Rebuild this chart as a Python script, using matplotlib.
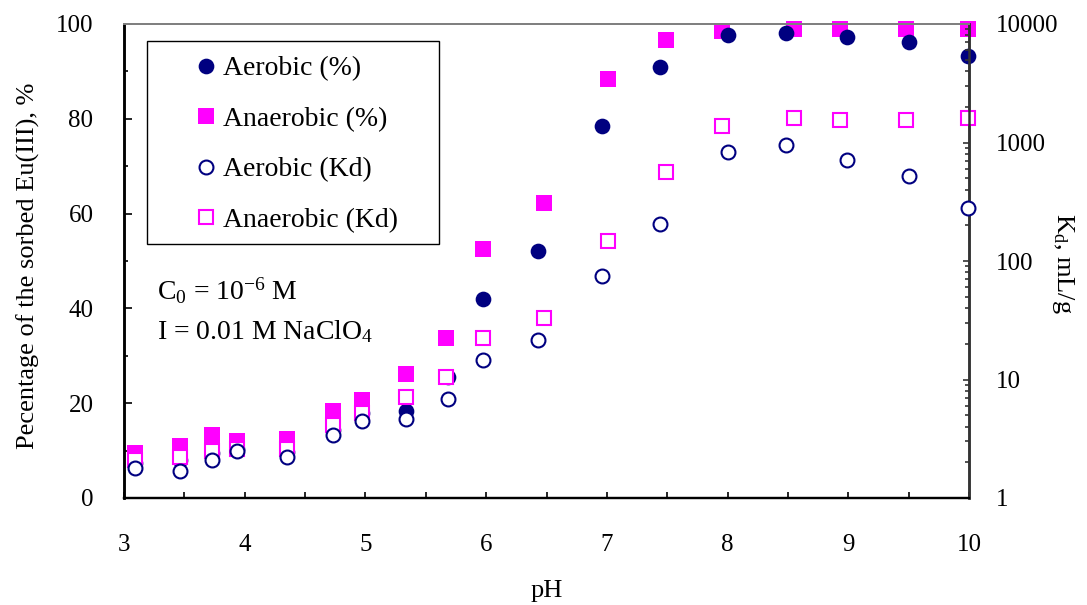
import matplotlib
matplotlib.use("Agg")
import matplotlib.pyplot as plt
from matplotlib.patches import Rectangle
from matplotlib.ticker import FixedLocator, MultipleLocator, NullFormatter

plt.rcParams['font.family'] = ['Liberation Serif', 'DejaVu Serif']
plt.rcParams['mathtext.fontset'] = 'custom'
plt.rcParams['mathtext.rm'] = 'Liberation Serif'
plt.rcParams['mathtext.it'] = 'Liberation Serif:italic'

# ---------------- data ----------------
ph_aer = [3.09, 3.46, 3.73, 3.94, 4.35, 4.73, 4.97, 5.34, 5.68, 5.97, 6.43, 6.96, 7.44, 8.00, 8.48, 8.99, 9.50, 9.99]
ph_ana = [3.09, 3.46, 3.73, 3.94, 4.35, 4.73, 4.97, 5.34, 5.67, 5.97, 6.48, 7.01, 7.49, 7.95, 8.55, 8.93, 9.48, 9.99]
pct_aer = [7.4, 8.0, 9.5, 10.3, 9.6, 14.3, 18.0, 18.4, 25.6, 42.0, 52.2, 78.4, 90.9, 97.7, 98.2, 97.3, 96.3, 93.2]
pct_ana = [9.4, 11.0, 13.3, 12.1, 12.4, 18.4, 20.7, 26.2, 33.7, 52.6, 62.2, 88.3, 96.6, 98.6, 98.9, 98.9, 98.9, 98.9]
kd_aer = [1.8, 1.7, 2.1, 2.5, 2.2, 3.4, 4.5, 4.6, 6.8, 14.7, 21.7, 74, 204, 827, 948, 718, 521, 278]
kd_ana = [2.1, 2.2, 2.5, 2.6, 2.6, 4.1, 5.2, 7.1, 10.5, 22.4, 33, 148, 560, 1390, 1603, 1543, 1543, 1603]

labels = ['Aerobic (%)', 'Anaerobic (%)', 'Aerobic (Kd)', 'Anaerobic (Kd)']
x_ticks = [3, 4, 5, 6, 7, 8, 9, 10]
left_ticks = [0, 20, 40, 60, 80, 100]
right_ticks = [1, 10, 100, 1000, 10000]
right_tick_labels = ['1', '10', '100', '1000', '10000']

NAVY = '#000080'
MAG = '#FF00FF'
FS = 18      # tick labels
FT = 20      # legend / annotations
W, H = 1087, 605
AX_L, AX_R, AX_T, AX_B = 124, 969, 24, 498

def ax_x(px):
    return (px - AX_L) / (AX_R - AX_L)

def ax_y(py):
    return (AX_B - py) / (AX_B - AX_T)

fig = plt.figure(figsize=(W / 100, H / 100), dpi=100)
ax = fig.add_axes([AX_L / W, 1 - AX_B / H, (AX_R - AX_L) / W, (AX_B - AX_T) / H])
ax2 = ax.twinx()

h2, = ax.plot(ph_ana, pct_ana, ls='none', marker='s', ms=11.5, mfc=MAG, mec=MAG, mew=0, clip_on=False, zorder=2)
h1, = ax.plot(ph_aer, pct_aer, ls='none', marker='o', ms=11.3, mfc=NAVY, mec=NAVY, mew=0, clip_on=False, zorder=3)
h4, = ax2.plot(ph_ana, kd_ana, ls='none', marker='s', ms=10.3, mfc='white', mec=MAG, mew=1.5, clip_on=False, zorder=2)
h3, = ax2.plot(ph_aer, kd_aer, ls='none', marker='o', ms=10.0, mfc='white', mec=NAVY, mew=1.5, clip_on=False, zorder=3)

ax.set_xlim(3, 10)
ax.set_ylim(0, 100)
ax2.set_yscale('log')
ax2.set_ylim(1, 10000)

ax.xaxis.set_major_locator(FixedLocator(x_ticks))
ax.xaxis.set_minor_locator(MultipleLocator(0.5))
ax.yaxis.set_major_locator(FixedLocator(left_ticks))
ax.yaxis.set_minor_locator(MultipleLocator(10))
ax2.yaxis.set_major_locator(FixedLocator(right_ticks))
ax2.set_yticklabels(right_tick_labels)
ax2.yaxis.set_minor_formatter(NullFormatter())

ax.tick_params(axis='x', which='both', direction='in', length=4, width=1.2, labelsize=FS, pad=26, top=False)
ax.tick_params(axis='y', which='major', direction='in', length=5.5, width=1.2, labelsize=FS, pad=22, right=False)
ax.tick_params(axis='y', which='minor', direction='in', length=3, width=1.2, right=False)
ax2.tick_params(axis='y', which='major', direction='in', length=4.5, width=1.2, labelsize=FS, pad=19, colors='#333333', labelcolor='black')
ax2.tick_params(axis='y', which='minor', direction='in', length=3, width=1.2, colors='#333333')

for a in (ax, ax2):
    a.spines['left'].set_color('black')
    a.spines['left'].set_linewidth(1.8)
    a.spines['bottom'].set_color('black')
    a.spines['bottom'].set_linewidth(1.6)
    a.spines['top'].set_color('#808080')
    a.spines['top'].set_linewidth(1.4)
    a.spines['right'].set_color('#333333')
    a.spines['right'].set_linewidth(1.8)

ax.set_xlabel('pH', fontsize=19)
ax.xaxis.set_label_coords(0.5, -0.172)
ax.set_ylabel('Pecentage of the sorbed Eu(III), %', fontsize=19)
ax.yaxis.set_label_coords(-0.100, 0.49)
ax2.set_ylabel(r'K$_\mathregular{d}$, mL/g', fontsize=19, rotation=270, va='bottom')
ax2.yaxis.set_label_coords(ax_x(1050), 0.495)

ax.text(ax_x(157), ax_y(300), r'C$_\mathregular{0}$ = 10$^\mathregular{-6}$ M', transform=ax.transAxes,
        fontsize=FT, va='baseline', ha='left')
ax.text(ax_x(157), ax_y(339), r'I = 0.01 M NaClO$_\mathregular{4}$', transform=ax.transAxes,
        fontsize=FT, va='baseline', ha='left')

# legend frame
frame = Rectangle((ax_x(147), ax_y(244)), ax_x(439) - ax_x(147), ax_y(41) - ax_y(244),
                  transform=ax2.transAxes, facecolor='white', edgecolor='black', lw=1.0,
                  zorder=9, clip_on=False)
ax2.add_patch(frame)

leg = ax2.legend([h1, h2, h3, h4], labels, loc='upper left',
                 bbox_to_anchor=(ax_x(193), ax_y(56)),
                 fontsize=FT, frameon=False, borderpad=0,
                 labelspacing=0.9, handlelength=0.9, handletextpad=0.18,
                 borderaxespad=0, markerscale=1.0)
leg.set_zorder(10)

fig.savefig('out.png', dpi=100)
